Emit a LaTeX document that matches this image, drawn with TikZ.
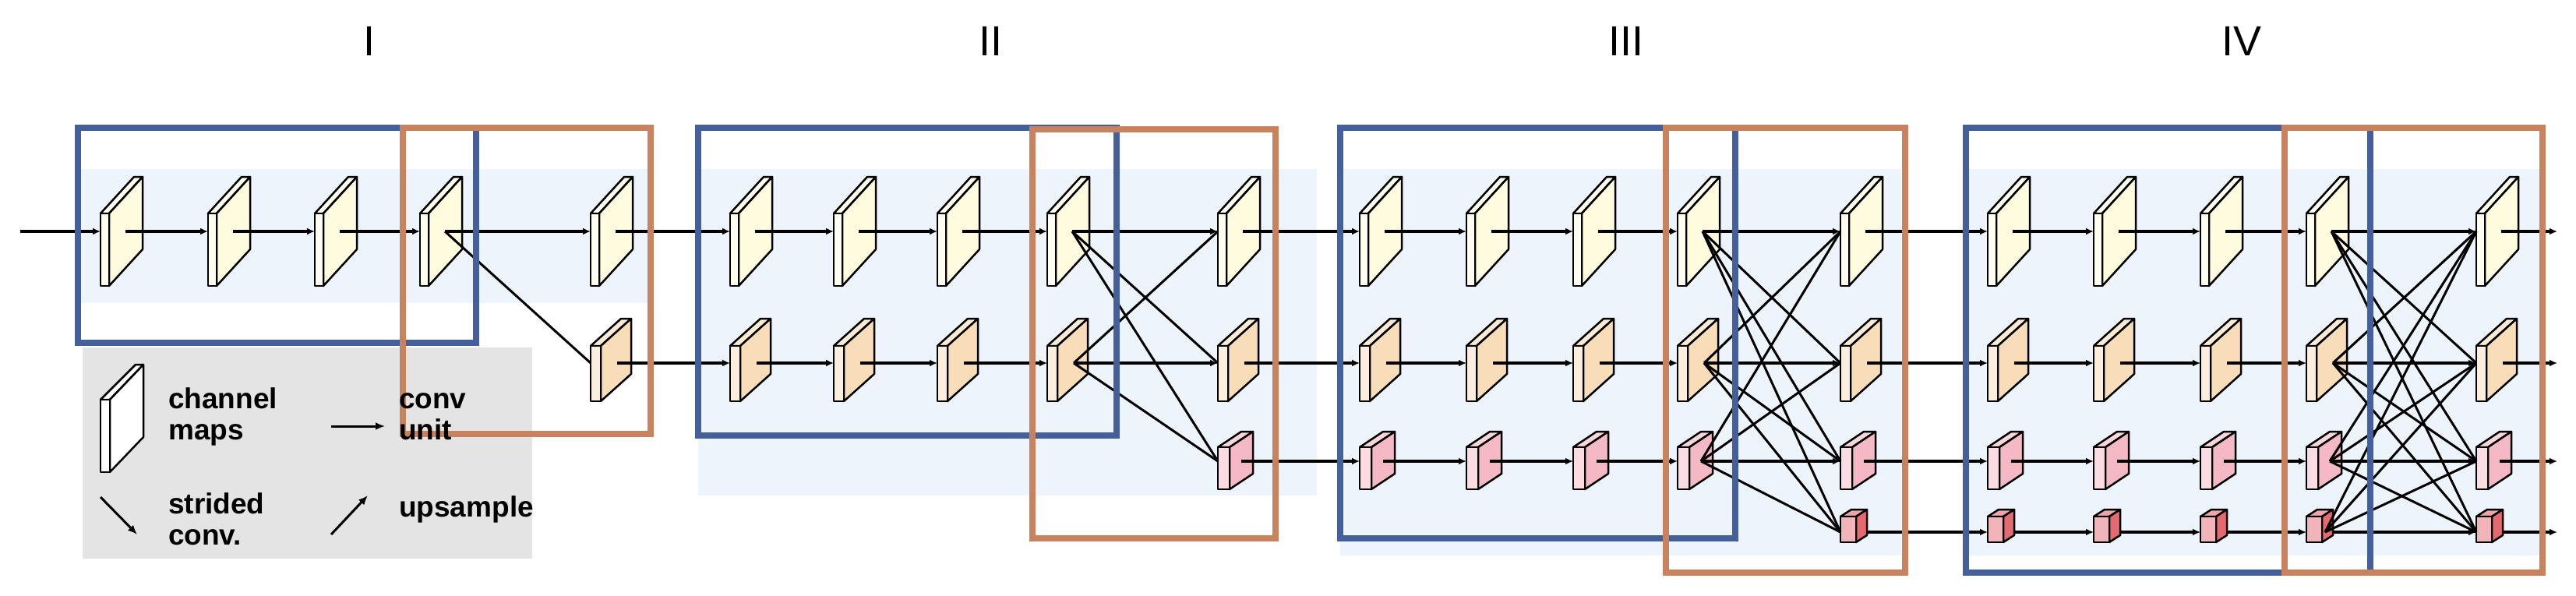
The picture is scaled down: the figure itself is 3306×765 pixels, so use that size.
\documentclass[tikz,border=0pt]{standalone}
\usepackage{fontspec}
\setmainfont{Liberation Sans}
\usetikzlibrary{arrows.meta}
\definecolor{bluebox}{HTML}{44609A}
\definecolor{orbox}{HTML}{C9825E}
\definecolor{band}{HTML}{EEF4FC}
\definecolor{pA}{HTML}{FFFBDF}
\definecolor{pB}{HTML}{F8DDB8}
\definecolor{pC}{HTML}{F5B9C5}
\definecolor{pD}{HTML}{E46A72}
\definecolor{leg}{HTML}{E4E4E4}
\tikzset{
  conn/.style={line width=3.5pt,-{Latex[length=10pt,width=9pt]}},
  cross/.style={line width=3pt},
  stub/.style={line width=3.5pt},
  sbox/.style={line width=8pt,draw=bluebox},
  obox/.style={line width=8pt,draw=orbox},
  face/.style={draw=black,line width=2.5pt,line join=round},
  lgtext/.style={font=\fontsize{37}{40}\selectfont\bfseries,align=left,anchor=west,inner sep=0pt},
  stage/.style={font=\fontsize{54}{56}\selectfont},
}
% \hrplate{cx}{cy}{t}{up}{down}{dx}{dy}{color}
\newcommand{\hrplate}[8]{%
  \pgfmathsetmacro{\pxa}{#1-26}\pgfmathsetmacro{\pxb}{#1-26+#3}%
  \pgfmathsetmacro{\pxc}{#1-26+#3+#6}\pgfmathsetmacro{\pxd}{#1-26+#6}%
  \pgfmathsetmacro{\pya}{#2-#4}\pgfmathsetmacro{\pyb}{#2+#5}%
  \pgfmathsetmacro{\pyc}{#2-#4-#7}\pgfmathsetmacro{\pyd}{#2+#5-#7}%
  \fill[#8!60!white,face] (\pxa,\pya) -- (\pxd,\pyc) -- (\pxc,\pyc) -- (\pxb,\pya) -- cycle;
  \fill[#8,face] (\pxb,\pya) -- (\pxc,\pyc) -- (\pxc,\pyd) -- (\pxb,\pyb) -- cycle;
  \fill[#8!50!white,face] (\pxa,\pya) rectangle (\pxb,\pyb);
}
\newcommand{\defpt}[4]{% name cx cy t+dx
  \coordinate (L#1) at (#2-26,#3);
  \coordinate (C#1) at ({#2-26+#4},#3);
  \coordinate (R#1) at ({#2+#4-4},#3);
}
\begin{document}
\begin{tikzpicture}[x=1pt,y=-1pt]
\useasboundingbox (0,0) rectangle (3306,765);
\fill[white] (0,0) rectangle (3306,765);
% bands
\fill[band] (100,217) rectangle (835,389);
\fill[band] (896,217) rectangle (1690,636);
\fill[band] (1720,217) rectangle (2440,713);
\fill[band] (2523,217) rectangle (3263,713);
% stage labels
\node[stage] (s1) at (474,53) {I};
\node[stage] (s2) at (1271,53) {II};
\node[stage] (s3) at (2087,53) {III};
\node[stage] (s4) at (2877,53) {IV};
% coordinates
\def\rowa{297}\def\rowb{466}\def\rowc{592}\def\rowd{683}
\foreach \i/\x in {1/155,2/293,3/430,4/565,5/784,6/963,7/1096,8/1229,9/1370,10/1589,11/1771,12/1908,13/2045,14/2179,15/2388,16/2577,17/2713,18/2850,19/2986,20/3204}{
  \defpt{a\i}{\x}{\rowa}{32}
  \defpt{b\i}{\x}{\rowb}{34}
  \defpt{c\i}{\x}{\rowc}{30}
  \defpt{d\i}{\x}{\rowd}{24}
}
\coordinate (startA) at (26,\rowa);
\coordinate (enda) at (3282,\rowa);
\coordinate (endb) at (3282,\rowb);
\coordinate (endc) at (3282,\rowc);
\coordinate (endd) at (3282,\rowd);
% main lines
\draw[conn] (startA) -- (La1);
\foreach \i [evaluate=\i as \j using int(\i+1)] in {1,...,19}{\draw[conn] (Ca\i) -- (La\j);}
\foreach \i [evaluate=\i as \j using int(\i+1)] in {5,...,19}{\draw[conn] (Cb\i) -- (Lb\j);}
\foreach \i [evaluate=\i as \j using int(\i+1)] in {10,...,19}{\draw[conn] (Cc\i) -- (Lc\j);}
\foreach \i [evaluate=\i as \j using int(\i+1)] in {15,...,19}{\draw[conn] (Cd\i) -- (Ld\j);}
\draw[conn] (Ca20) -- (enda);
\draw[conn] (Cb20) -- (endb);
\draw[conn] (Cc20) -- (endc);
\draw[conn] (Cd20) -- (endd);
% plates
\foreach \i/\cx in {1/155,2/293,3/430,4/565,5/784,6/963,7/1096,8/1229,9/1370,10/1589,11/1771,12/1908,13/2045,14/2179,15/2388,16/2577,17/2713,18/2850,19/2986,20/3204}{
  \hrplate{\cx}{\rowa}{11}{23}{70}{43}{47}{pA}
  \draw[stub] (Ca\i) -- (Ra\i);
  \ifnum\i>4
    \hrplate{\cx}{\rowb}{13}{22}{49}{39}{35}{pB}
    \draw[stub] (Cb\i) -- (Rb\i);
  \fi
  \ifnum\i>9
    \hrplate{\cx}{\rowc}{15}{18}{36}{30}{20}{pC}
    \draw[stub] (Cc\i) -- (Rc\i);
  \fi
  \ifnum\i>14
    \hrplate{\cx}{\rowd}{20}{20}{13}{14}{9}{pD}
  \fi
}
% fusion connections
\draw[cross] (Ca4) -- (Lb5);
\foreach \s/\t in {a9/b10,a9/c10,b9/a10,b9/c10}{\draw[cross] (C\s) -- (L\t);}
\foreach \s/\t in {a/b,a/c,a/d,b/a,b/c,b/d,c/a,c/b,c/d}{\draw[cross] (C\s14) -- (L\t15);}
\foreach \s/\t in {a/b,a/c,a/d,b/a,b/c,b/d,c/a,c/b,c/d,d/a,d/b,d/c}{\draw[cross] (C\s19) -- (L\t20);}
% legend background
\fill[leg] (106,446) rectangle (683,717);
% stage boxes
\draw[sbox] (100,164) rectangle (611,440);
\draw[obox] (517,164) rectangle (835,557);
\draw[sbox] (896,164) rectangle (1433,559);
\draw[obox] (1325,166) rectangle (1637,691);
\draw[sbox] (1720,164) rectangle (2227,691);
\draw[obox] (2138,164) rectangle (2445,735);
\draw[sbox] (2523,164) rectangle (3042,735);
\draw[obox] (2932,164) rectangle (3263,735);
% legend
\fill[white,face] (129,513) -- (174,468) -- (184,468) -- (141,513) -- cycle;
\fill[white,face] (141,513) -- (184,468) -- (184,561) -- (141,606) -- cycle;
\fill[white,face] (129,513) rectangle (141,606);
\node[lgtext] (t1) at (216,535) {channel\\maps};
\node[lgtext] (t2) at (512,535) {conv\\unit};
\coordinate (a1s) at (425,547); \coordinate (a1e) at (494,547);
\draw[line width=3pt,-{Latex[length=12pt,width=10pt]}] (a1s) -- (a1e);
\coordinate (a2s) at (129,638); \coordinate (a2e) at (176,686);
\draw[line width=3pt,-{Latex[length=12pt,width=10pt]}] (a2s) -- (a2e);
\coordinate (a3s) at (425,686); \coordinate (a3e) at (472,636);
\draw[line width=3pt,-{Latex[length=12pt,width=10pt]}] (a3s) -- (a3e);
\node[lgtext] (t3) at (216,666) {strided\\conv.};
\node[lgtext] (t4) at (512,654) {upsample};
\end{tikzpicture}
\end{document}
